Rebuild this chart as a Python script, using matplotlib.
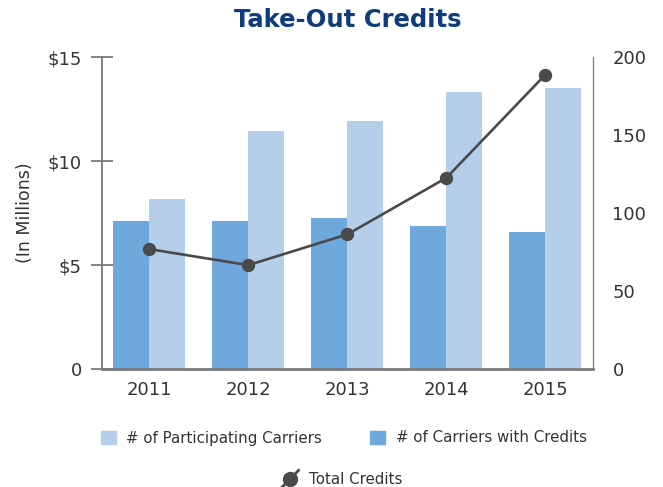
import matplotlib
matplotlib.use("Agg")
import matplotlib.pyplot as plt
import numpy as np
from matplotlib.patches import Patch
from matplotlib.lines import Line2D

# data
years = ["2011", "2012", "2013", "2014", "2015"]
carriers_with_credits = [95, 95, 97, 92, 88]
participating_carriers = [109, 153, 159, 178, 180]
total_credits = [5.77, 5.0, 6.48, 9.2, 14.17]  # $ millions

left_ticks = [0, 5, 10, 15]
left_labels = ["0", "$5", "$10", "$15"]
right_ticks = [0, 50, 100, 150, 200]

DARK = "#6FA8DC"
LIGHT = "#B5CFEA"
LINE = "#4A4A4A"
AXIS = "#7A7A7A"
TEXT = "#333333"
TITLE = "#0E3C7C"

plt.rcParams["font.family"] = ["DejaVu Sans"]


class DiagLineHandler:
    """Legend handle: dot with a slanted line through it."""
    def legend_artist(self, legend, orig_handle, fontsize, handlebox):
        x0, y0 = handlebox.xdescent, handlebox.ydescent
        w, h = handlebox.width, handlebox.height
        cx, cy = x0 + w / 2, y0 + h / 2
        ln = Line2D([cx - 0.45 * w, cx + 0.45 * w], [cy - 0.85 * h, cy + 0.85 * h],
                    color=LINE, lw=2, transform=handlebox.get_transform())
        mk = Line2D([cx], [cy], marker="o", markersize=10, color=LINE,
                    transform=handlebox.get_transform())
        handlebox.add_artist(ln)
        handlebox.add_artist(mk)
        return ln


fig = plt.figure(figsize=(6.63, 4.87), dpi=100)
ax = fig.add_axes([0.1534, 0.2423, 0.741, 0.640])
ax2 = ax.twinx()

x = np.arange(len(years))
w = 0.363
ax2.bar(x - w / 2, carriers_with_credits, width=w, color=DARK, linewidth=0)
ax2.bar(x + w / 2, participating_carriers, width=w, color=LIGHT, linewidth=0)
ax2.set_ylim(0, 200)
ax2.set_yticks(right_ticks)
ax2.tick_params(axis="y", length=0, pad=14, labelsize=13, labelcolor=TEXT)

ax.plot(x, total_credits, color=LINE, lw=1.9, marker="o", markersize=8.6)
ax.set_zorder(ax2.get_zorder() + 1)
ax.patch.set_visible(False)
ax.set_ylim(0, 15)
ax.set_xlim(-0.48, 4.48)
ax.set_yticks(left_ticks)
ax.set_yticklabels(left_labels)
ax.set_xticks(x)
ax.set_xticklabels(years)
ax.tick_params(axis="y", direction="inout", length=16.5, width=1.3, color=AXIS,
               pad=6, labelsize=13, labelcolor=TEXT)
ax.tick_params(axis="x", length=0, pad=9, labelsize=13, labelcolor=TEXT)
ax.set_ylabel("(In Millions)", fontsize=12.5, color=TEXT, labelpad=10)

for a in (ax, ax2):
    a.spines["top"].set_visible(False)
ax.spines["right"].set_visible(False)
ax2.spines["left"].set_visible(False)
ax2.spines["bottom"].set_visible(False)
ax.spines["left"].set_color(AXIS)
ax.spines["left"].set_linewidth(1.3)
ax.spines["bottom"].set_color(AXIS)
ax.spines["bottom"].set_linewidth(2)
ax2.spines["right"].set_color(AXIS)
ax2.spines["right"].set_linewidth(0.9)

ax.set_title("Take-Out Credits", fontsize=17.5, fontweight="bold", color=TITLE, pad=22)

bar_handles = [Patch(color=LIGHT, label="# of Participating Carriers"),
               Patch(color=DARK, label="# of Carriers with Credits")]
fig.legend(handles=bar_handles, loc="center left", bbox_to_anchor=(101 / 663, 1 - 438 / 487),
           ncol=2, frameon=False, fontsize=10.8, handlelength=1.0, handleheight=1.0,
           handletextpad=0.7, columnspacing=3.2, borderpad=0, borderaxespad=0,
           labelcolor=TEXT)

line_handle = Line2D([], [], color=LINE, label="Total Credits")
fig.legend(handles=[line_handle], loc="center", bbox_to_anchor=(341 / 663, 1 - 480 / 487),
           frameon=False, fontsize=10.8, handlelength=1.3, handletextpad=0.6,
           borderpad=0, borderaxespad=0, labelcolor=TEXT,
           handler_map={Line2D: DiagLineHandler()})

fig.savefig("out.png", dpi=100)
